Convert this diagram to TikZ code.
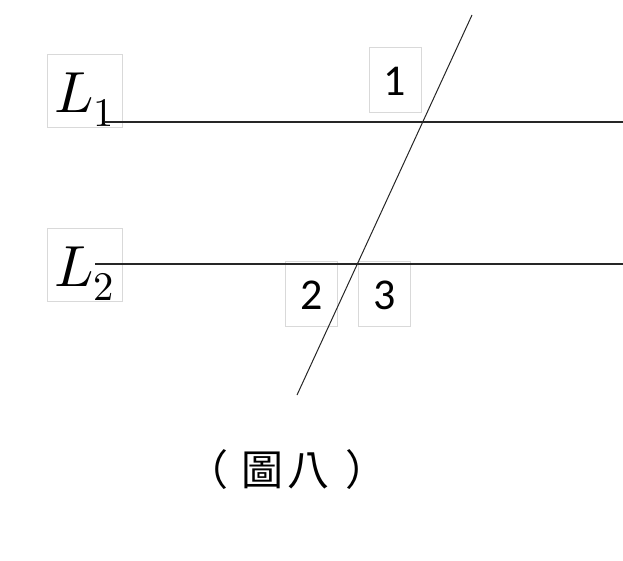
\documentclass[tikz,border=0pt]{standalone}
\usepackage{fontspec}
\usepackage{unicode-math}
\setmathfont{Latin Modern Math}
\newfontfamily\numfont{Carlito}
\newfontfamily\cjkfont{Noto Sans CJK TC}
\usepackage{tikz}
\usetikzlibrary{positioning}
\tikzstyle{tagbox} = [draw=black!15, line width=0.6pt, rectangle, inner sep=0pt]
\tikzstyle{mathbox} = [tagbox, minimum width=75pt, text height=58pt, text depth=15pt,
    font=\fontsize{58}{60}\selectfont]
\tikzstyle{numbox} = [tagbox, minimum width=52pt, text height=48pt, text depth=17pt,
    font=\fontsize{44}{46}\numfont]
\tikzstyle{parline} = [draw=black!85, line width=1.3pt]
\tikzstyle{crossline} = [draw=black!85, line width=1pt]
\begin{document}
\begin{tikzpicture}[x=1pt,y=-1pt]
\useasboundingbox (0,0) rectangle (623,560);
\node [mathbox] (Lone) at (84.5,90.5) {$L_1$};
\node [mathbox] (Ltwo) at (84.5,264.5) {$L_2$};
\node [numbox] (angone) at (395,79.5) {1};
\node [numbox] (angtwo) at (311.5,294) {2};
\node [numbox] (angthree) at (384.5,294) {3};
% lines
\coordinate (Lonea) at (105,122);
\coordinate (Loneb) at (623,122);
\coordinate (Ltwoa) at (95,264);
\coordinate (Ltwob) at (623,264);
\coordinate (crosstop) at (472,15);
\coordinate (crossbot) at (297,395);
\draw [parline] (Lonea) -- (Loneb);
\draw [parline] (Ltwoa) -- (Ltwob);
\draw [crossline] (crosstop) -- (crossbot);
\node [font=\fontsize{42}{44}\cjkfont] (caption) at (287,470)
    {（\hspace{14pt}圖\hspace{4pt}八\hspace{16pt}）};
\end{tikzpicture}
\end{document}
